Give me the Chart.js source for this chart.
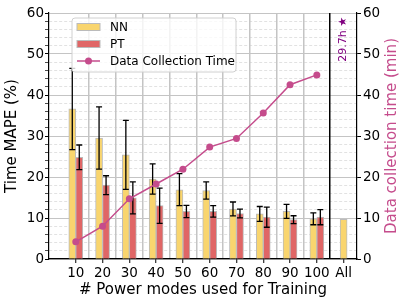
<!DOCTYPE html>
<html>
<head>
<meta charset="utf-8">
<script src="https://cdn.jsdelivr.net/npm/chart.js@4/dist/chart.umd.min.js"></script>
<style>
html,body{margin:0;padding:0;background:#fff;}
</style>
</head>
<body>
<canvas id="timeChart" width="407" height="305"></canvas>
<script>
//数据
var labelList=["10","20","30","40","50","60","70","80","90","100","All"];
var nnList=[36.6,29.5,25.4,19.5,16.9,16.7,12.2,11.0,11.6,9.8,9.7];
var nnErrList=[9.9,7.6,8.4,3.7,3.9,2.1,1.7,1.8,1.7,1.45,null];
var ptList=[24.8,18.0,14.9,13.0,11.6,11.6,11.1,10.2,9.6,10.2,null];
var ptErrList=[3.0,2.3,3.9,4.3,1.5,1.4,1.05,2.45,0.95,1.85,null];
var timeList=[4.2,8.0,14.7,18.3,21.9,27.3,29.4,35.6,42.5,44.9];
var allTimeText="29.7h \u2605";

var fontFamily='"DejaVu Sans", sans-serif';
var nnColor="#F9D56E";
var ptColor="#E06666";
var lineColor="#C54C8C";

Chart.defaults.font.family=fontFamily;
Chart.defaults.color="#000";

function toPoints(list){
    var out=[];
    for(var i=0;i<list.length;i++){
        out.push({x:i+1,y:list[i]});
    }
    return out;
}

var xTickValues=[];
for(var i=1;i<=labelList.length;i++){
    xTickValues.push(i);
    if(i<labelList.length) xTickValues.push(i+0.5);
}

function isWhole(v){ return Math.abs(v-Math.round(v))<1e-6; }

//误差线
var errorBarPlugin={
    id:"errorBars",
    afterDatasetDraw:function(chart,args){
        var ds=chart.data.datasets[args.index];
        if(!ds.errors) return;
        var ctx=chart.ctx;
        var yScale=chart.scales.y;
        ctx.save();
        ctx.strokeStyle="#000";
        ctx.lineWidth=1.3;
        args.meta.data.forEach(function(bar,i){
            var v=ds.values[i], e=ds.errors[i];
            if(v==null||e==null) return;
            var top=yScale.getPixelForValue(v+e);
            var bottom=yScale.getPixelForValue(v-e);
            ctx.beginPath();
            ctx.moveTo(bar.x,top);ctx.lineTo(bar.x,bottom);
            ctx.moveTo(bar.x-3,top);ctx.lineTo(bar.x+3,top);
            ctx.moveTo(bar.x-3,bottom);ctx.lineTo(bar.x+3,bottom);
            ctx.stroke();
        });
        ctx.restore();
    }
};

//图例、右侧标题、All 文字
var extrasPlugin={
    id:"extras",
    afterDraw:function(chart){
        var ctx=chart.ctx;
        var area=chart.chartArea;
        var xScale=chart.scales.x;
        ctx.save();

        // 29.7h
        ctx.save();
        ctx.translate(xScale.getPixelForValue(labelList.length),area.top+4);
        ctx.rotate(-Math.PI/2);
        ctx.font="11px "+fontFamily;
        ctx.fillStyle="#800080";
        ctx.textAlign="right";
        ctx.textBaseline="middle";
        ctx.fillText(allTimeText,0,0);
        ctx.restore();

        // right axis title
        ctx.save();
        ctx.translate(392,(area.top+area.bottom)/2);
        ctx.rotate(-Math.PI/2);
        ctx.font="15px "+fontFamily;
        ctx.fillStyle=lineColor;
        ctx.textAlign="center";
        ctx.textBaseline="middle";
        ctx.fillText("Data collection time (min)",0,0);
        ctx.restore();

        // legend
        var lx=area.left+23, ly=area.top+5, lw=164, lh=54;
        ctx.beginPath();
        ctx.roundRect(lx,ly,lw,lh,3);
        ctx.fillStyle="rgba(255,255,255,0.8)";
        ctx.fill();
        ctx.strokeStyle="#d0d0d0";
        ctx.lineWidth=1;
        ctx.stroke();

        var rows=[
            {text:"NN",kind:"bar",color:nnColor},
            {text:"PT",kind:"bar",color:ptColor},
            {text:"Data Collection Time",kind:"line",color:lineColor}
        ];
        ctx.font="12px "+fontFamily;
        ctx.textBaseline="middle";
        ctx.textAlign="left";
        for(var i=0;i<rows.length;i++){
            var cy=ly+9+i*17;
            var sx=lx+5;
            if(rows[i].kind=="bar"){
                ctx.fillStyle=rows[i].color;
                ctx.fillRect(sx,cy-3.5,23,7);
                ctx.strokeStyle="#bbbbbb";
                ctx.strokeRect(sx,cy-3.5,23,7);
            }else{
                ctx.strokeStyle=rows[i].color;
                ctx.lineWidth=1.5;
                ctx.beginPath();ctx.moveTo(sx,cy);ctx.lineTo(sx+23,cy);ctx.stroke();
                ctx.fillStyle=rows[i].color;
                ctx.beginPath();ctx.arc(sx+11.5,cy,3.5,0,Math.PI*2);ctx.fill();
            }
            ctx.fillStyle="#000";
            ctx.fillText(rows[i].text,lx+38,cy+0.5);
        }
        ctx.restore();
    }
};

var timeChart=new Chart(document.getElementById("timeChart"),{
    type:"bar",
    data:{
        datasets:[
            {
                type:"line",
                label:"Data Collection Time",
                data:toPoints(timeList),
                yAxisID:"y2",
                borderColor:lineColor,
                backgroundColor:lineColor,
                borderWidth:1.5,
                pointRadius:3.5,
                pointBorderWidth:0,
                order:0
            },
            {
                label:"NN",
                data:toPoints(nnList),
                values:nnList,
                errors:nnErrList,
                backgroundColor:nnColor,
                borderColor:"#bbbbbb",
                borderWidth:1,
                barThickness:7,
                skipNull:true,
                order:1
            },
            {
                label:"PT",
                data:toPoints(ptList),
                values:ptList,
                errors:ptErrList,
                backgroundColor:ptColor,
                borderColor:"#bbbbbb",
                borderWidth:1,
                barThickness:7,
                skipNull:true,
                order:2
            }
        ]
    },
    options:{
        responsive:false,
        animation:false,
        layout:{padding:{top:13,left:0,right:0,bottom:0}},
        plugins:{legend:{display:false},tooltip:{enabled:false}},
        scales:{
            x:{
                type:"linear",
                min:0,
                max:11.5,
                offset:false,
                afterBuildTicks:function(s){
                    s.ticks=xTickValues.map(function(v){return {value:v};});
                },
                afterFit:function(s){ s.height=46; },
                grid:{
                    offset:false,
                    z:-1,
                    color:function(c){
                        if(!c.tick) return "#c4c4c4";
                        if(isWhole(c.tick.value)) return "rgba(0,0,0,0)";
                        return c.tick.value==10.5?"#000":"#c4c4c4";
                    },
                    lineWidth:1.5,
                    tickColor:function(c){
                        return c.tick&&isWhole(c.tick.value)?"#000":"rgba(0,0,0,0)";
                    },
                    tickLength:4,
                    tickWidth:1
                },
                border:{color:"#000",width:1.2},
                ticks:{
                    autoSkip:false,
                    maxRotation:0,
                    padding:2,
                    font:{size:13.5},
                    color:"#000",
                    callback:function(v){
                        return isWhole(v)?labelList[Math.round(v)-1]:"";
                    }
                },
                title:{
                    display:true,
                    text:"# Power modes used for Training",
                    font:{size:15},
                    color:"#000",
                    padding:{top:0,bottom:6}
                }
            },
            y:{
                position:"left",
                min:0,
                max:60,
                afterFit:function(s){ s.width=49; },
                ticks:{
                    stepSize:2,
                    autoSkip:false,
                    padding:1,
                    font:{size:13.5},
                    color:"#000",
                    callback:function(v){ return v%10===0?v:""; }
                },
                grid:{
                    z:-2,
                    color:function(c){
                        return c.tick&&c.tick.value%10!==0?"#e2e2e2":"#c4c4c4";
                    },
                    lineWidth:1,
                    tickColor:"#000",
                    tickLength:4,
                    tickWidth:function(c){
                        return c.tick&&c.tick.value%10!==0?0.7:1;
                    }
                },
                border:{
                    color:"#000",
                    width:1.2,
                    dash:function(c){
                        return c.tick&&c.tick.value%10!==0?[3,2]:[];
                    }
                },
                title:{
                    display:true,
                    text:"Time MAPE (%)",
                    font:{size:15},
                    color:"#000",
                    padding:{top:3,bottom:0}
                }
            },
            y2:{
                position:"right",
                min:0,
                max:60,
                afterFit:function(s){ s.width=50; },
                ticks:{
                    stepSize:10,
                    padding:2,
                    font:{size:13.5},
                    color:"#000"
                },
                grid:{drawOnChartArea:false,tickColor:"#000",tickLength:4},
                border:{color:"#000",width:1.2}
            }
        }
    },
    plugins:[errorBarPlugin,extrasPlugin]
});
</script>
</body>
</html>
